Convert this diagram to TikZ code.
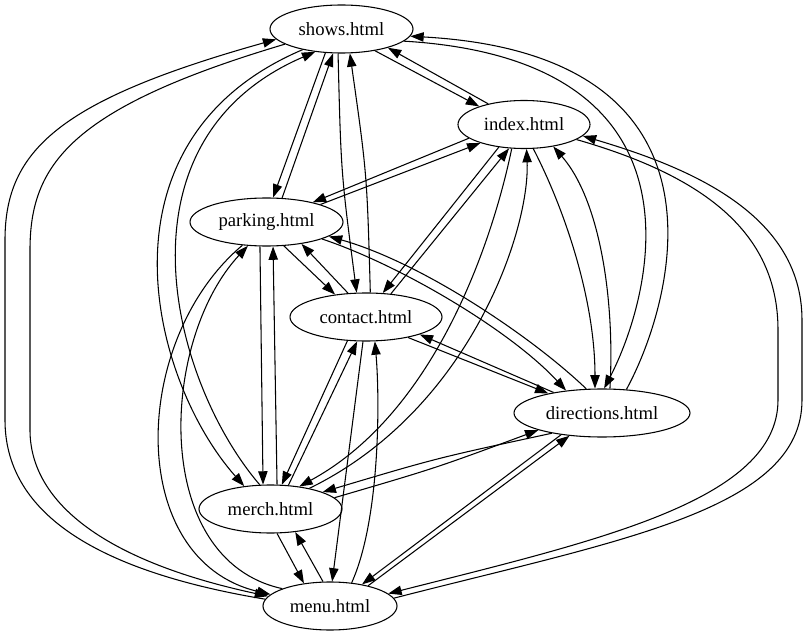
\documentclass[tikz,border=0pt]{standalone}
\usepackage{fontspec}
\setmainfont{Liberation Serif}
\usetikzlibrary{arrows.meta,shapes.geometric}
\begin{document}
\begin{tikzpicture}[x=0.75pt,y=-0.75pt,
  gv/.style={ellipse, draw, line width=0.8pt, inner sep=0pt, minimum height=36pt,
    font=\fontsize{14pt}{16pt}\selectfont},
  e/.style={draw, line width=0.8pt, -{Triangle[length=10pt,width=7pt]}}]
\fill[white] (0,0) rectangle (808,635);
% nodes
\node[gv, minimum width=107.25pt] (S) at (341.5,29) {shows.html};
\node[gv, minimum width=99pt]     (I) at (524,124.5) {index.html};
\node[gv, minimum width=114.75pt] (P) at (266.5,222) {parking.html};
\node[gv, minimum width=114pt]    (C) at (366,317) {contact.html};
\node[gv, minimum width=132pt]    (D) at (602,413) {directions.html};
\node[gv, minimum width=107.25pt] (M) at (270.5,509) {merch.html};
\node[gv, minimum width=100.5pt]  (U) at (330,606) {menu.html};
% shows <-> index
\draw[e] (S.-33) -- (I.158);
\draw[e] (I.150) -- (S.-22);
% shows <-> parking
\draw[e] (S.-124) -- (P.75);
\draw[e] (P.57) -- (S.-109);
% shows <-> contact
\draw[e] (S.-98) .. controls (341,173) .. (C.111);
\draw[e] (C.80) .. controls (367,174) .. (S.-71);
% shows <-> directions
\draw[e] (S.-11) .. controls (720,60) and (650,300) .. (D.85);
\draw[e] (D.44) .. controls (670,310) and (750,55) .. (S.-6);
% shows <-> merch
\draw[e] (S.-152) .. controls (90,140) and (150,380) .. (M.139);
\draw[e] (M.114) .. controls (170,380) and (110,140) .. (S.-139);
% shows <-> menu
\draw[e] (S.-165) .. controls (70,108) and (30,165) .. (30,250) -- (30,430)
  .. controls (30,500) and (100,560) .. (U.171);
\draw[e] (U.174) .. controls (90,570) and (5,510) .. (5,420) -- (5,240)
  .. controls (5,150) and (60,100) .. (S.-171);
% index <-> parking
\draw[e] (I.-166) -- (P.23);
\draw[e] (P.18) -- (I.-157);
% index <-> contact
\draw[e] (I.-138) -- (C.55);
\draw[e] (C.43) -- (I.-122);
% index <-> directions
\draw[e] (I.-69) .. controls (565,210) and (595,300) .. (D.106);
\draw[e] (D.72) .. controls (615,300) and (600,200) .. (I.-37);
% index <-> merch
\draw[e] (I.-117) .. controls (495,230) and (440,410) .. (M.38);
\draw[e] (M.28) .. controls (470,410) and (530,230) .. (I.-84);
% index <-> menu
\draw[e] (I.-16) .. controls (700,175) and (778,230) .. (778,330) -- (778,400)
  .. controls (778,500) and (600,540) .. (U.12);
\draw[e] (U.7) .. controls (620,540) and (802,510) .. (802,400) -- (802,320)
  .. controls (802,210) and (680,165) .. (I.-11);
% parking <-> contact
\draw[e] (P.-54) -- (C.144);
\draw[e] (C.127) -- (P.-32);
% parking <-> directions
\draw[e] (P.-17) .. controls (400,265) and (510,330) .. (D.148);
\draw[e] (D.123) .. controls (530,335) and (420,262) .. (P.-13);
% parking <-> merch
\draw[e] (P.-105) -- (M.107);
\draw[e] (M.75) -- (P.-75);
% parking <-> menu
\draw[e] (P.-136) .. controls (130,340) and (125,560) .. (U.169);
\draw[e] (U.160) .. controls (150,560) and (160,340) .. (P.-128);
% contact <-> directions
\draw[e] (C.-26) -- (D.160);
\draw[e] (D.157) -- (C.-18);
% contact <-> merch
\draw[e] (C.-128) -- (M.65);
\draw[e] (M.53) -- (C.-110);
% contact <-> menu
\draw[e] (C.-97) -- (U.85);
\draw[e] (U.47) .. controls (380,520) and (380,400) .. (C.-70);
% directions <-> merch
\draw[e] (D.-158) .. controls (437,458) .. (M.18);
\draw[e] (M.10) .. controls (436,468) .. (D.-165);
% directions <-> menu
\draw[e] (D.-152) -- (U.34);
\draw[e] (U.28) -- (D.-145);
% merch <-> menu
\draw[e] (M.-75) -- (U.139);
\draw[e] (U.106) -- (M.-43);
\end{tikzpicture}
\end{document}
